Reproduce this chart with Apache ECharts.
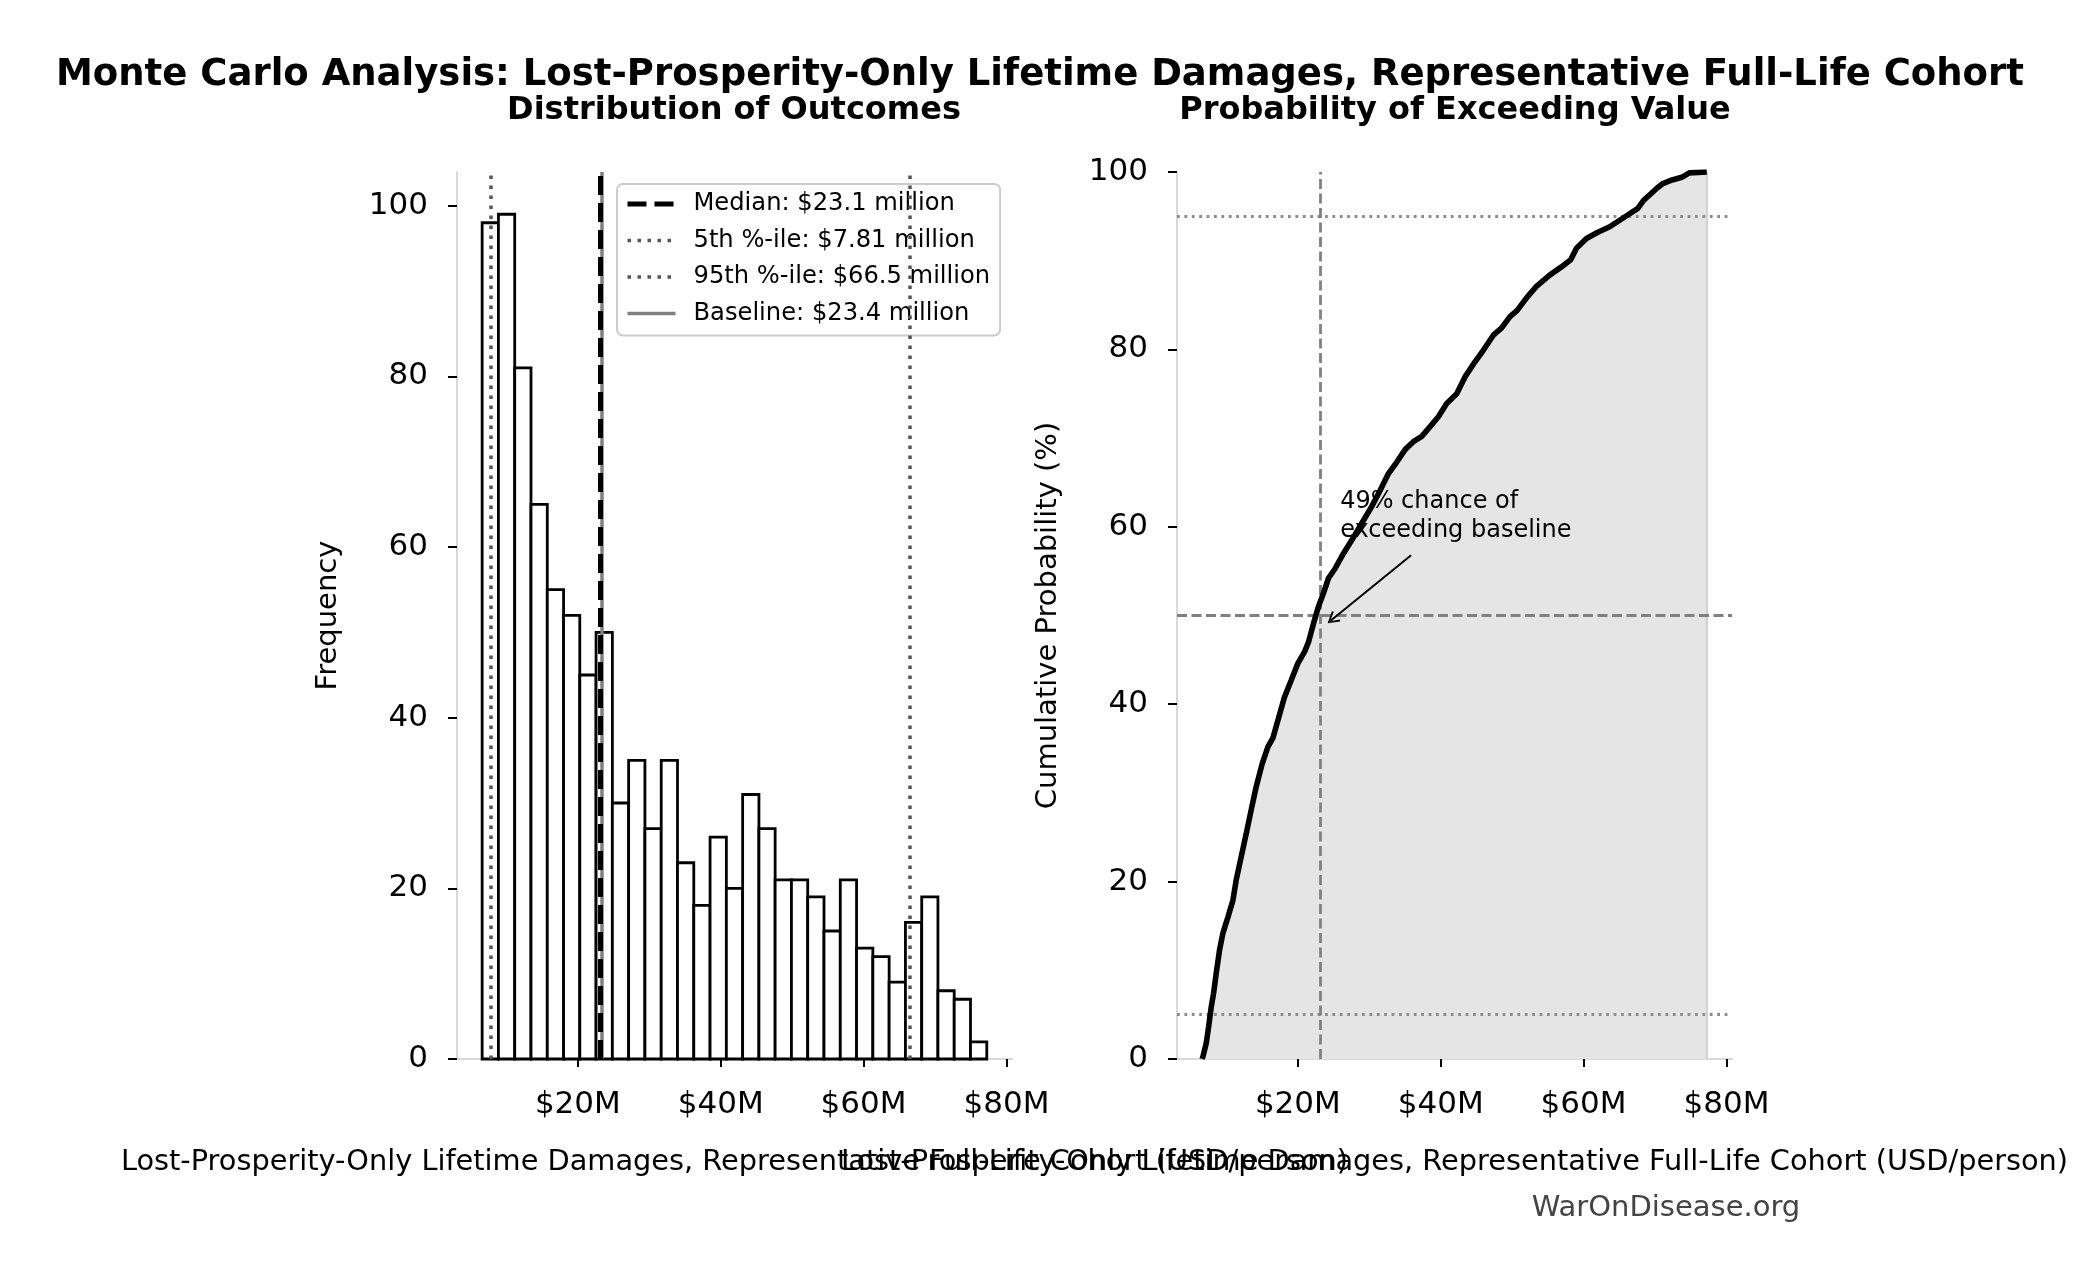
<!DOCTYPE html>
<html>
<head>
<meta charset="utf-8">
<script src="https://cdn.jsdelivr.net/npm/echarts@6/dist/echarts.min.js"></script>
<style>
  html, body { margin: 0; padding: 0; background: #fff; }
  #main { width: 2081px; height: 1280px; }
</style>
</head>
<body>
<div id="main"></div>
<script>
// histogram bins, USD millions per person
var binEdges = [6.60, 8.88, 11.16, 13.44, 15.72, 18.00, 20.27, 22.55, 24.83, 27.11, 29.39, 31.67,
  33.95, 36.23, 38.51, 40.79, 43.07, 45.35, 47.62, 49.90, 52.18, 54.46, 56.74, 59.02, 61.30,
  63.58, 65.86, 68.14, 70.41, 72.69, 74.97, 77.25];
var counts = [98, 99, 81, 65, 55, 52, 45, 50, 30, 35, 27, 35, 23, 18, 26, 20, 31, 27, 21, 21,
  19, 15, 21, 13, 12, 9, 16, 19, 8, 7, 2];

var median = 23.1, p5 = 7.81, p95 = 66.5, baseline = 23.4;

// cumulative curve
var cdfX = [6.60, 6.72, 7.18, 7.50, 7.88, 8.20, 8.58, 9.04, 9.51, 10.21, 10.91, 11.37, 12.07, 12.77,
  13.47, 14.17, 15.01, 15.81, 16.51, 17.21, 18.13, 19.07, 20.00, 20.93, 21.49, 22.19, 22.88, 23.58,
  24.28, 25.22, 26.38, 27.56, 28.95, 30.35, 31.51, 32.68, 33.85, 35.01, 36.17, 37.35, 38.51, 39.67,
  40.84, 42.24, 43.40, 44.80, 45.96, 47.36, 48.50, 49.70, 50.70, 52.10, 53.40, 55.30, 56.90, 58.20,
  59.00, 60.40, 62.00, 63.60, 65.70, 67.60, 68.40, 69.50, 70.30, 71.10, 72.40, 73.75, 74.80, 77.25];
var cdfY = [0.0, 0.3, 1.8, 3.6, 5.9, 7.4, 9.7, 12.3, 14.2, 16.0, 17.9, 20.2, 22.8, 25.4,
  28.1, 30.7, 33.3, 35.2, 36.2, 38.2, 40.8, 42.7, 44.6, 45.9, 47.0, 49.1, 51.0, 52.5,
  54.2, 55.3, 57.0, 58.5, 60.4, 62.3, 64.1, 66.0, 67.3, 68.7, 69.6, 70.2, 71.3, 72.4,
  73.9, 75.0, 76.9, 78.6, 79.9, 81.6, 82.4, 83.7, 84.4, 85.9, 87.1, 88.4, 89.3, 90.1,
  91.4, 92.5, 93.2, 93.8, 94.9, 95.9, 96.8, 97.6, 98.2, 98.7, 99.1, 99.4, 99.9, 100.0];

var xTicks = [20, 40, 60, 80];
var yTicks = [0, 20, 40, 60, 80, 100];
var xMin = 3.08, xMax = 80.78, leftYMax = 103.95;

var exceedPct = 49;
var xName = 'Lost-Prosperity-Only Lifetime Damages, Representative Full-Life Cohort (USD/person)';

var FONT = 'DejaVu Sans';
var histData = counts.map(function (c, i) { return [binEdges[i], binEdges[i + 1], c]; });
var cdfData = cdfX.map(function (x, i) { return [x, cdfY[i]]; });

var chartDom = document.getElementById('main');
var myChart = echarts.init(chartDom, null, { renderer: 'canvas' });

function xAxisOpt(idx) {
  return {
    type: 'value', gridIndex: idx, min: xMin, max: xMax,
    name: xName, nameLocation: 'middle', nameGap: 89,
    nameTextStyle: { fontFamily: FONT, fontSize: 28.8, color: '#000' },
    axisLine: { onZero: false, lineStyle: { color: '#d9d9d9', width: 2 } },
    axisTick: { customValues: xTicks, length: 8, lineStyle: { color: '#000', width: 2 } },
    axisLabel: {
      customValues: xTicks, margin: 30, fontFamily: FONT, fontSize: 31, color: '#000',
      formatter: function (v) { return '$' + v + 'M'; }
    },
    splitLine: { show: false }
  };
}
function yAxisOpt(idx, max, name, margin) {
  return {
    type: 'value', gridIndex: idx, min: 0, max: max,
    name: name, nameLocation: 'middle', nameGap: 114,
    nameTextStyle: { fontFamily: FONT, fontSize: 29, color: '#000' },
    axisLine: { show: true, onZero: false, lineStyle: { color: '#d9d9d9', width: 2 } },
    axisTick: { show: true, customValues: yTicks, length: 9, lineStyle: { color: '#000', width: 2 } },
    axisLabel: { customValues: yTicks, margin: margin, fontFamily: FONT, fontSize: 31, color: '#000' },
    splitLine: { show: false }
  };
}

function vline(name, value, color, width, dash, z) {
  var ls = { color: color, width: width, type: dash };
  return {
    name: name, type: 'line', xAxisIndex: 0, yAxisIndex: 0, data: [], symbol: 'none',
    lineStyle: ls, itemStyle: { color: color }, z: z,
    markLine: {
      silent: true, symbol: 'none', label: { show: false }, animation: false,
      lineStyle: ls, data: [{ xAxis: value }]
    }
  };
}

var medianName = 'Median: $' + median + ' million';
var p5Name = '5th %-ile: $' + p5 + ' million';
var p95Name = '95th %-ile: $' + p95 + ' million';
var baseName = 'Baseline: $' + baseline + ' million';

var medianDash = [19, 8];
var dotted = [3.5, 6.5];
var rightDash = [10, 4.5];
var rightDot = [2.8, 4.6];

var option = {
  backgroundColor: '#fff',
  animation: false,
  title: [
    { text: 'Monte Carlo Analysis: Lost-Prosperity-Only Lifetime Damages, Representative Full-Life Cohort',
      left: 1035, top: 52, textAlign: 'center',
      textStyle: { fontFamily: FONT, fontSize: 37, fontWeight: 'bold', color: '#000' } },
    { text: 'Distribution of Outcomes', left: 729, top: 90, textAlign: 'center',
      textStyle: { fontFamily: FONT, fontSize: 32, fontWeight: 'bold', color: '#000' } },
    { text: 'Probability of Exceeding Value', left: 1450, top: 90, textAlign: 'center',
      textStyle: { fontFamily: FONT, fontSize: 32, fontWeight: 'bold', color: '#000' } },
    { text: 'WarOnDisease.org', left: 1661, top: 1189, textAlign: 'center',
      textStyle: { fontFamily: FONT, fontSize: 29, fontWeight: 'normal', color: '#444' } }
  ],
  legend: {
    orient: 'vertical', left: 617, top: 184,
    data: [
      { name: medianName, lineStyle: { color: '#000', width: 5, type: medianDash } },
      { name: p5Name, lineStyle: { color: '#555', width: 3.5, type: dotted } },
      { name: p95Name, lineStyle: { color: '#555', width: 3.5, type: dotted } },
      { name: baseName, lineStyle: { color: '#808080', width: 3.5, type: 'solid' } }
    ],
    itemStyle: { opacity: 0 },
    itemWidth: 48, itemHeight: 14, itemGap: 12.5,
    padding: [8, 10, 10, 8],
    backgroundColor: 'rgba(255,255,255,0.8)', borderColor: '#cccccc', borderWidth: 2, borderRadius: 6,
    textStyle: { fontFamily: FONT, fontSize: 24.2, color: '#000', lineHeight: 24, padding: [0, 0, 0, 13] },
    selectedMode: false
  },
  grid: [
    { left: 457, top: 172, width: 555, height: 887 },
    { left: 1177, top: 172, width: 555, height: 887 }
  ],
  xAxis: [xAxisOpt(0), xAxisOpt(1)],
  yAxis: [yAxisOpt(0, leftYMax, 'Frequency', 29), yAxisOpt(1, 100, 'Cumulative Probability (%)', 29)],
  series: [
    {
      type: 'custom', xAxisIndex: 0, yAxisIndex: 0, z: 1,
      encode: { x: [0, 1], y: 2 },
      data: histData,
      renderItem: function (params, api) {
        var p0 = api.coord([api.value(0), 0]);
        var p1 = api.coord([api.value(1), api.value(2)]);
        return {
          type: 'rect',
          shape: { x: p0[0], y: p1[1], width: p1[0] - p0[0], height: p0[1] - p1[1] },
          style: { fill: '#fff', stroke: '#000', lineWidth: 2.8 }
        };
      }
    },
    vline(baseName, baseline, '#808080', 3.5, 'solid', 3),
    vline(medianName, median, '#000', 5, medianDash, 4),
    vline(p5Name, p5, '#555', 3.5, dotted, 4),
    vline(p95Name, p95, '#555', 3.5, dotted, 4),

    // right panel: filled area under the curve
    {
      type: 'line', xAxisIndex: 1, yAxisIndex: 1, z: 1, data: cdfData, symbol: 'none',
      lineStyle: { width: 0 }, areaStyle: { color: '#e5e5e5', opacity: 1 },
      markLine: {
        silent: true, symbol: 'none', label: { show: false }, animation: false,
        lineStyle: { color: '#d2d2d2', width: 2, type: 'solid' },
        data: [[{ coord: [cdfX[cdfX.length - 1], 0] }, { coord: [cdfX[cdfX.length - 1], 100] }]]
      }
    },
    // reference lines
    {
      type: 'line', xAxisIndex: 1, yAxisIndex: 1, z: 2, data: [], symbol: 'none',
      markLine: {
        silent: true, symbol: 'none', label: { show: false }, animation: false,
        data: [
          { yAxis: 5, lineStyle: { color: '#8c8c8c', width: 2.8, type: rightDot } },
          { yAxis: 95, lineStyle: { color: '#8c8c8c', width: 2.8, type: rightDot } },
          { yAxis: 50, lineStyle: { color: '#808080', width: 2.8, type: rightDash } },
          { xAxis: median, lineStyle: { color: '#808080', width: 2.8, type: rightDash } }
        ]
      }
    },
    // curve
    {
      type: 'line', xAxisIndex: 1, yAxisIndex: 1, z: 10, data: cdfData, symbol: 'none',
      lineStyle: { color: '#000', width: 5.6 }
    },
    // annotation
    {
      type: 'line', xAxisIndex: 1, yAxisIndex: 1, z: 11, data: [], symbol: 'none',
      markLine: {
        silent: true, animation: false, label: { show: false },
        lineStyle: { color: '#000', width: 2, type: 'solid' },
        data: [[
          { coord: [35.85, 56.8], symbol: 'none' },
          { coord: [24.28, 49.2], symbol: 'path://M5,0 L10,9 L8.8,10 L5,2.6 L1.2,10 L0,9 Z', symbolSize: [13, 12], symbolOffset: [0, 5] }
        ]]
      },
      markPoint: {
        silent: true, animation: false, symbol: 'rect', symbolSize: 0,
        data: [{ coord: [25.92, 64.43] }],
        label: {
          show: true, position: [0, 0], align: 'left', verticalAlign: 'top',
          formatter: exceedPct + '% chance of\nexceeding baseline',
          fontFamily: FONT, fontSize: 24, lineHeight: 29, color: '#000'
        }
      }
    }
  ]
};

myChart.setOption(option);
</script>
</body>
</html>
